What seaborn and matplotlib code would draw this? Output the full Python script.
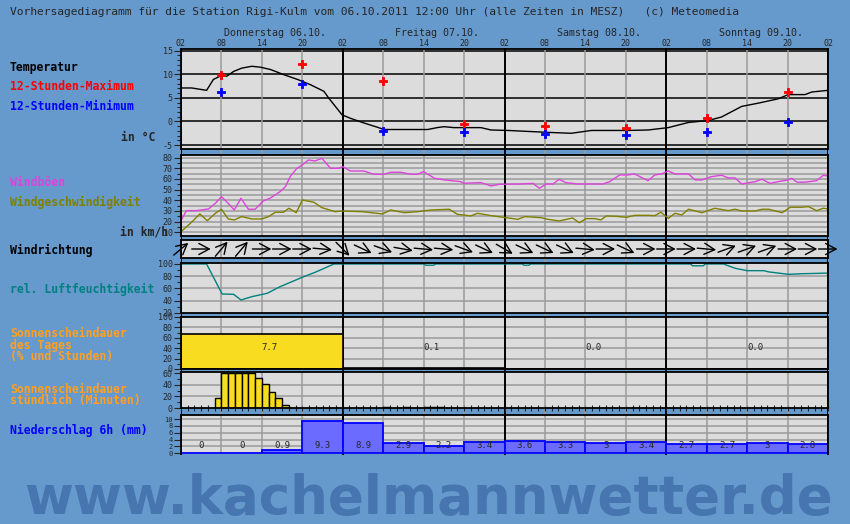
import numpy as np
import pandas as pd
import seaborn as sns
import matplotlib.pyplot as plt

sns.set_style('white')
plt.rcParams['font.family'] = ['DejaVu Sans Mono', 'DejaVu Sans']

W, H = 850, 524
BG = '#6699cc'
PANEL = '#dcdcdc'
GRID = '#9a9a9a'

# x-Achse: Stunden seit Donnerstag 02:00 MESZ
hour_ticks = ['02', '08', '14', '20'] * 4 + ['02']
days = ['Donnerstag 06.10.', 'Freitag 07.10.', 'Samstag 08.10.', 'Sonntag 09.10.']

temp_h = [0, 1.6, 3.8, 4.8, 5.8, 6.8, 7.8, 9.0, 10.5, 11.8, 13.3, 15.3, 17.3, 19.2, 21.2,
          21.9, 22.9, 23.9, 25.1, 27.1, 29.1, 30.1, 36.6, 38.0, 39.0, 40.5, 44.5, 46.0,
          48.5, 51.4, 54.4, 57.9, 60.9, 66.3, 69.3, 72.3, 75.3, 78.2, 80.2, 83.2, 85.7,
          88.6, 90.1, 92.6, 93.6, 96.0]
temp_v = [7.1, 7.1, 6.6, 8.9, 9.6, 9.6, 10.6, 11.3, 11.7, 11.5, 11.0, 9.9, 8.9, 7.8, 6.4,
          5.0, 3.2, 1.4, 0.7, -0.3, -1.2, -1.7, -1.7, -1.3, -1.1, -1.3, -1.3, -1.8,
          -1.9, -2.1, -2.3, -2.5, -1.9, -1.9, -1.8, -1.3, -0.2, 0.2, 0.95, 3.2, 3.9,
          4.8, 5.7, 5.7, 6.25, 6.6]
ext_h = [6, 18, 30, 42, 54, 66, 78, 90]
tmax = [9.8, 12.2, 8.5, -0.5, -1.0, -1.4, 0.7, 6.25]
tmin = [6.2, 7.9, -2.1, -2.3, -2.7, -2.9, -2.3, -0.1]

gust_h = [0, 0.8, 2.3, 4.1, 5.1, 6.0, 7.0, 7.9, 8.9, 10.0,
          11.0, 12.2, 13.2, 14.7, 15.5, 16.2, 17.2, 18.0, 18.9, 19.9,
          20.9, 22.2, 23.4, 24.0, 25.1, 27.1, 28.6, 30.1, 31.1, 32.6,
          34.1, 35.1, 36.0, 37.6, 39.1, 41.5, 42.0, 44.5, 46.0, 47.2,
          50.4, 52.2, 53.2, 54.2, 55.2, 56.1, 57.1, 58.9, 62.6, 63.6,
          65.1, 66.3, 67.3, 69.3, 70.3, 71.3, 72.3, 73.3, 75.3, 76.3,
          77.3, 78.7, 80.2, 81.2, 82.2, 83.2, 85.2, 86.2, 87.4, 88.6,
          90.1, 90.6, 91.4, 92.6, 94.3, 95.3, 96.0]
gust_v = [20.9, 30.3, 30.3, 31.9, 37.2, 43.4, 37.2, 30.9, 41.9, 31.6,
          31.6, 39.4, 41.9, 48.1, 52.8, 62.2, 70.0, 73.2, 77.8, 76.9,
          79.4, 70.0, 70.0, 71.6, 67.5, 67.5, 64.4, 64.4, 66.3, 66.3,
          64.4, 64.4, 66.9, 60.7, 59.1, 57.5, 56.0, 56.6, 53.5, 55.0,
          55.3, 55.9, 51.3, 55.3, 55.3, 59.7, 56.6, 55.3, 55.3, 57.5,
          63.8, 63.8, 64.7, 58.4, 63.8, 64.7, 67.5, 64.7, 64.7, 59.1,
          59.1, 62.2, 63.5, 61.0, 61.0, 55.3, 57.5, 59.7, 55.9, 57.5,
          59.1, 60.7, 57.0, 57.0, 58.4, 63.5, 62.8]

wind_h = [0, 1.3, 2.8, 3.9, 5.1, 6.0, 7.0, 7.9, 9.0, 10.5,
          12.0, 13.0, 14.0, 15.2, 16.0, 17.1, 18.0, 19.7, 20.9, 22.9,
          24.0, 26.9, 29.9, 31.1, 33.1, 35.1, 37.1, 39.8, 41.0, 43.0,
          44.0, 46.0, 48.2, 50.0, 51.0, 53.4, 54.4, 56.1, 58.1, 59.1,
          60.1, 61.4, 62.3, 63.1, 64.6, 66.1, 67.3, 69.3, 70.3, 71.2,
          72.3, 73.3, 74.3, 75.3, 77.3, 79.2, 81.2, 82.2, 83.2, 85.2,
          86.2, 87.2, 89.2, 90.4, 92.1, 93.1, 94.3, 95.3, 96.0]
wind_v = [10.6, 17.8, 27.2, 20.9, 27.8, 31.6, 22.5, 21.6, 24.7, 22.5,
          22.5, 24.7, 28.8, 28.8, 32.5, 28.4, 40.3, 38.2, 33.1, 29.3,
          30.0, 29.3, 27.2, 30.9, 28.4, 29.3, 30.9, 31.6, 26.9, 25.3,
          27.8, 25.6, 23.7, 22.2, 24.7, 23.7, 22.2, 20.6, 23.4, 19.0,
          22.8, 22.8, 21.6, 25.3, 25.0, 24.0, 25.9, 25.9, 25.6, 28.8,
          23.1, 27.8, 26.2, 31.6, 28.4, 32.5, 30.3, 31.6, 30.0, 30.0,
          31.6, 31.6, 28.4, 33.5, 33.5, 34.1, 30.3, 32.5, 31.9]

# Pfeilrichtung (Grad, 0 = nach Osten zeigend) alle 3 Stunden
dir_h = list(range(0, 97, 3))
dir_deg = [40, 0, 50, 50, 0, 0, 0, -5,
           -45, -25, -20, -10, -5, -5, -20, -25,
           -30, -25, -25, -25, -5, 0, -25, 0,
           0, 0, -5, 20, 20, 20, 0, 0, 0]

hum_h = [0, 3.8, 6.1, 7.8, 8.9, 10.5, 12.8, 14.7, 18.2, 19.9,
         22.7, 36.0, 36.3, 37.5, 37.8, 50.6, 50.9, 51.6, 51.9, 75.6,
         75.9, 77.5, 77.8, 80.5, 82.2, 84.0, 86.5, 87.2, 90.1, 92.1, 96.0]
hum_v = [100, 100, 50.7, 50.2, 40.9, 46.3, 51.9, 62.7, 79.1, 86.3,
         100, 100, 98, 98, 100, 100, 98, 98, 100, 100,
         97, 97, 100, 100, 93, 89, 89, 87, 83, 84, 85]

sun_day_start = [0, 24, 48, 72]
sun_day_pct = [67, 1, 0, 0]
sun_day_txt = ['7.7', '0.1', '0.0', '0.0']

sun_hr_start = [5, 6, 7, 8, 9, 10, 11, 12, 13, 14, 15, 30, 33, 36, 37, 38]
sun_hr_min = [17, 60, 60, 60, 60, 60, 51, 42, 27, 17, 6, 1, 1, 1, 1, 1]

rain_start = list(range(0, 96, 6))
rain_mm = [0, 0, 0.9, 9.3, 8.9, 2.9, 2.2, 3.4, 3.6, 3.3, 3, 3.4, 2.7, 2.7, 3, 2.8]

fig = plt.figure(figsize=(W / 100, H / 100), dpi=100, facecolor=BG)


def px_axes(y0, y1, x0=181, x1=828):
    return fig.add_axes([x0 / W, 1 - y1 / H, (x1 - x0) / W, (y1 - y0) / H])


def vlines(ax):
    for h in range(0, 97, 6):
        day = h % 24 == 0
        ax.axvline(h, color='black' if day else GRID, lw=1.4 if day else 1.1, zorder=1)


# senkrechte Linien laufen auch durch die Luecken zwischen den Panels
bg = px_axes(48, 455)
bg.set_xlim(0, 96)
bg.axis('off')
vlines(bg)


def panel(y0, y1, ylim, hlines, hcolor=GRID, yticks=None, minor=None, lsize=6):
    ax = px_axes(y0, y1)
    ax.set_facecolor(PANEL)
    ax.set_xlim(0, 96)
    ax.set_ylim(*ylim)
    for y in hlines:
        ax.axhline(y, color=hcolor, lw=1.1, zorder=1)
    vlines(ax)
    for s in ax.spines.values():
        s.set_color('black')
        s.set_linewidth(1.3)
    ax.set_xticks([])
    if yticks is not None:
        ax.set_yticks(yticks)
        ax.set_yticklabels([f'{t:g}' for t in yticks], fontsize=lsize)
    else:
        ax.set_yticks([])
    if minor is not None:
        ax.set_yticks(minor, minor=True)
    ax.tick_params(axis='y', which='major', length=5, width=0.8, pad=1, left=True)
    ax.tick_params(axis='y', which='minor', length=3, width=0.8, left=True)
    return ax


# Temperatur
ax_t = panel(49, 149, (-5.83, 15.36), [-5, 0, 5, 10, 15], hcolor='black',
             yticks=[-5, 0, 5, 10, 15], minor=range(-5, 16))
sns.lineplot(x=temp_h, y=temp_v, ax=ax_t, color='black', lw=1.0, estimator=None)
sns.scatterplot(x=ext_h, y=tmax, ax=ax_t, color='red', marker='P', s=34,
                edgecolor='red', linewidth=0.6, zorder=3)
sns.scatterplot(x=ext_h, y=tmin, ax=ax_t, color='blue', marker='P', s=34,
                edgecolor='blue', linewidth=0.6, zorder=3)
ax_t.xaxis.tick_top()
ax_t.set_xticks(range(0, 97, 6))
ax_t.set_xticklabels(hour_ticks, fontsize=6)
ax_t.tick_params(axis='x', length=0, pad=0.5)

# Wind
ax_w = panel(155, 236, (6.5, 82.5), range(10, 81, 5), yticks=range(10, 81, 10),
             minor=range(10, 81, 5))
sns.lineplot(x=gust_h, y=gust_v, ax=ax_w, color='#dd44dd', lw=1.0, estimator=None)
sns.lineplot(x=wind_h, y=wind_v, ax=ax_w, color='#808000', lw=1.0, estimator=None)

# Windrichtung
ax_d = panel(240, 258, (-1, 1), [])
for h, a in zip(dir_h, dir_deg):
    dx = 9.5 * np.cos(np.radians(a)) / 6.74
    dy = 9.5 * np.sin(np.radians(a)) / 9.0
    ax_d.annotate('', xy=(h + dx, dy), xytext=(h - dx, -dy), annotation_clip=False,
                  arrowprops=dict(arrowstyle='->,head_length=0.75,head_width=0.4',
                                  color='black', lw=1.0, shrinkA=0, shrinkB=0))

# Luftfeuchtigkeit
ax_h = panel(263, 313, (19.5, 101.6), [40, 60, 80], yticks=range(20, 101, 20),
             minor=range(20, 101, 10))
sns.lineplot(x=hum_h, y=hum_v, ax=ax_h, color='#008080', lw=1.0, estimator=None)

# Sonnenscheindauer Tag
ax_s = panel(317, 369, (0, 100), [20, 40, 60, 80], yticks=range(0, 101, 20),
             minor=range(0, 101, 10))
ax_s.bar(sun_day_start, sun_day_pct, width=24, align='edge', color='#f8dc20',
         edgecolor='black', lw=1.2, zorder=2)
for h, t in zip(sun_day_start, sun_day_txt):
    ax_s.text(h + 12, 42, t, fontsize=6.5, ha='left', va='center', zorder=3)

# Sonnenscheindauer stuendlich
ax_m = panel(372, 408, (0, 62), [20, 40], yticks=[0, 20, 40, 60], minor=range(0, 61, 10))
ax_m.bar(sun_hr_start, sun_hr_min, width=1, align='edge', color='#f8dc20',
         edgecolor='black', lw=1.0, zorder=2)
ax_m.set_xticks(range(0, 97), minor=True)
ax_m.tick_params(axis='x', which='minor', bottom=True, direction='inout', length=5, width=0.8)

# Niederschlag
ax_r = panel(415, 454, (-0.25, 11.2), [2, 4, 6, 8, 10], yticks=range(0, 11, 2), lsize=5)
ax_r.bar(rain_start, rain_mm, width=6, align='edge', color='#6b6bff',
         edgecolor='#0000ff', lw=1.3, zorder=2)
for h, v in zip(rain_start, rain_mm):
    ax_r.text(h + 3, 2.1, f'{v:g}', fontsize=6.5, ha='center', va='center', zorder=3)
ax_r.spines['bottom'].set_visible(False)

# Texte
fig.text(10 / W, 1 - 12 / H, 'Vorhersagediagramm für die Station Rigi-Kulm vom 06.10.2011 '
         '12:00 Uhr (alle Zeiten in MESZ)   (c) Meteomedia', fontsize=8.1, va='center')
for d, name in enumerate(days):
    fig.text((181 + (24 * d + 14) * 6.74) / W, 1 - 33 / H, name, fontsize=7.2,
             ha='center', va='center')

labels = [
    ('Temperatur', 67, 'black'),
    ('12-Stunden-Maximum', 87, 'red'),
    ('12-Stunden-Minimum', 107, 'blue'),
    ('Windböen', 182, '#dd44dd'),
    ('Windgeschwindigkeit', 202, '#808000'),
    ('Windrichtung', 250, 'black'),
    ('rel. Luftfeuchtigkeit', 289, '#008080'),
    ('Sonnenscheindauer\ndes Tages\n(% und Stunden)', 345, '#ffa020'),
    ('Sonnenscheindauer\nstündlich (Minuten)', 395, '#ffa020'),
    ('Niederschlag 6h (mm)', 430, 'blue'),
]
for txt, y, c in labels:
    fig.text(10 / W, 1 - y / H, txt, fontsize=8.3, weight='bold', color=c,
             va='center', linespacing=0.88)
fig.text(155 / W, 1 - 137 / H, 'in °C', fontsize=8.3, weight='bold', ha='right', va='center')
fig.text(168 / W, 1 - 232 / H, 'in km/h', fontsize=8.3, weight='bold', ha='right', va='center')

fig.text(24 / W, 1 - 514 / H, 'www.kachelmannwetter.de', family='DejaVu Sans',
         weight='bold', fontsize=38.2, color='#4675b0', va='baseline')

fig.savefig('out.png', dpi=100, facecolor=BG)
